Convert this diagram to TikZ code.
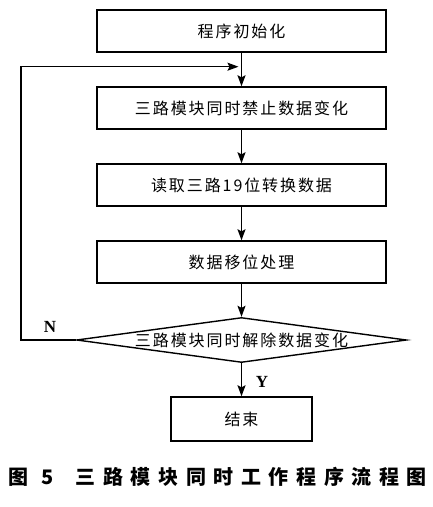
\documentclass[tikz,border=0pt]{standalone}
\usepackage{fontspec}
\setmainfont{Noto Sans CJK SC}[LetterSpace=12]
\newfontfamily\capfont{Noto Sans CJK SC}[LetterSpace=38]
\newfontfamily\latinfont{Liberation Serif}
\usetikzlibrary{shapes.geometric, arrows.meta}
\tikzstyle{process} = [rectangle, minimum width=289pt, minimum height=42pt, text centered,
draw=black, line width=1.4pt, font=\fontsize{16}{18}\selectfont]
\tikzstyle{decision} = [diamond, aspect=7.3, minimum width=330pt, minimum height=45pt,
inner sep=0pt, text centered, draw=black, line width=1.4pt, font=\fontsize{16}{18}\selectfont]
\tikzstyle{yesno} = [font=\latinfont\bfseries\fontsize{17}{18}\selectfont]
\tikzstyle{arrow} = [line width=1.4pt,->,>={Stealth[length=11pt,width=8pt,inset=2pt]}]

\begin{document}
\begin{tikzpicture} [x=1pt, y=1pt, node distance=77pt]
        \useasboundingbox (0,0) rectangle (433,-507);

        \node (init) [process] at (241.5,-31) {程序初始化};
        \node (freeze) [process, below of=init] {三路模块同时禁止数据变化};
        \node (read) [process, below of=freeze] {读取三路19位转换数据};
        \node (shift) [process, below of=read] {数据移位处理};
        \node (release) [decision, below of=shift, yshift=-1pt] {三路模块同时解除数据变化};
        \node (stop) [process, minimum width=141pt, minimum height=44pt, below of=release, yshift=-2pt] {结束};

        \coordinate (join) at ([yshift=-14pt]init.south);

        \draw[arrow] (init) -- (freeze);
        \draw[arrow] (freeze) -- (read);
        \draw[arrow] (read) -- (shift);
        \draw[arrow] (shift) -- (release);
        \draw[arrow] (release) -- (stop);
        \draw[arrow] (release.west) -- ++(-55,0) |- ([xshift=-3pt]join);

        \node (no) [yesno] at (50,-327) {N};
        \node (yes) [yesno] at (262,-382) {Y};

        \node (caption) [anchor=west, font=\capfont\bfseries\fontsize{20}{22}\selectfont] at (5,-477)
        {图\hspace*{13pt}5\hspace*{22pt}三路模块同时工作程序流程图};

    \end{tikzpicture}
\end{document}
